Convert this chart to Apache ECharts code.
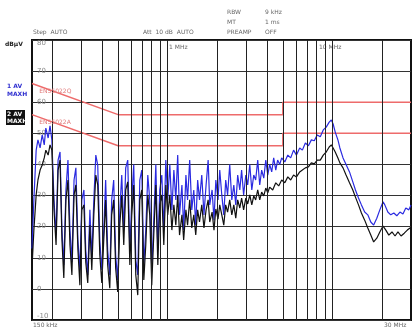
<!DOCTYPE html>
<html>
<head>
<meta charset="utf-8">
<script src="https://cdn.jsdelivr.net/npm/echarts@6/dist/echarts.min.js"></script>
<style>
  html, body { margin: 0; padding: 0; background: #fff; }
  #chart { width: 413px; height: 330px; }
</style>
</head>
<body>
<div id="chart"></div>
<script>
// Conducted emission scan, 150 kHz .. 30 MHz (frequencies in MHz, levels in dBµV)

// Trace 1 (blue), max hold
const trace1 = [
  [0.150, 13.0], [0.154, 28.6], [0.159, 44.6], [0.163, 47.9], [0.168, 45.3], [0.173, 49.5],
  [0.178, 46.3], [0.182, 51.7], [0.188, 48.5], [0.193, 52.4], [0.198, 47.9], [0.204, 28.6],
  [0.210, 17.3], [0.216, 41.4], [0.222, 44.0], [0.228, 18.9], [0.234, 7.7], [0.241, 31.8],
  [0.248, 41.4], [0.255, 18.9], [0.262, 8.6], [0.270, 35.0], [0.277, 38.9], [0.285, 15.7],
  [0.293, 6.1], [0.301, 28.6], [0.310, 31.8], [0.318, 12.5], [0.327, 4.5], [0.337, 25.4],
  [0.346, 9.9], [0.356, 28.6], [0.366, 43.0], [0.376, 39.8], [0.387, 15.7], [0.398, 6.1],
  [0.409, 18.9], [0.420, 35.0], [0.432, 12.5], [0.445, 4.5], [0.457, 28.6], [0.470, 35.0],
  [0.483, 10.9], [0.497, 2.9], [0.512, 25.4], [0.526, 36.6], [0.541, 18.9], [0.556, 38.9],
  [0.572, 41.4], [0.589, 12.5], [0.605, 28.6], [0.622, 40.0], [0.640, 9.3], [0.658, 4.5],
  [0.677, 35.0], [0.696, 38.2], [0.716, 7.7], [0.736, 18.9], [0.757, 36.6], [0.778, 28.6],
  [0.800, 6.1], [0.823, 22.1], [0.847, 40.0], [0.871, 12.5], [0.895, 31.8], [0.921, 36.6],
  [0.947, 18.9], [0.974, 41.4], [1.00, 28.6], [1.03, 40.0], [1.06, 25.4], [1.09, 38.2],
  [1.12, 28.6], [1.15, 43.0], [1.18, 23.8], [1.22, 33.4], [1.25, 18.9], [1.29, 36.6],
  [1.32, 28.6], [1.36, 41.4], [1.40, 25.4], [1.44, 31.8], [1.48, 20.5], [1.52, 35.0],
  [1.56, 28.6], [1.61, 36.6], [1.66, 23.8], [1.71, 33.4], [1.76, 41.4], [1.80, 27.0],
  [1.86, 31.8], [1.91, 22.1], [1.96, 35.0], [2.02, 28.6], [2.07, 38.2], [2.13, 30.2],
  [2.19, 23.8], [2.25, 35.0], [2.31, 30.2], [2.38, 40.0], [2.45, 28.6], [2.52, 33.4],
  [2.59, 27.0], [2.66, 36.6], [2.74, 31.8], [2.81, 38.2], [2.89, 30.2], [2.98, 36.6],
  [3.06, 33.4], [3.15, 40.0], [3.24, 31.8], [3.33, 36.6], [3.42, 35.0], [3.52, 41.4],
  [3.62, 33.4], [3.72, 38.2], [3.83, 35.6], [3.94, 41.4], [4.05, 36.6], [4.16, 40.0],
  [4.28, 37.6], [4.40, 42.1], [4.53, 38.2], [4.65, 41.4], [4.79, 40.0], [4.92, 42.1],
  [5.14, 40.8], [5.36, 43.0], [5.58, 42.1], [5.81, 44.6], [6.05, 43.0], [6.33, 45.3],
  [6.57, 44.6], [6.85, 46.9], [7.15, 46.0], [7.45, 47.9], [7.76, 47.6], [8.09, 49.5],
  [8.44, 48.9], [8.80, 51.1], [9.17, 52.0], [9.56, 53.6], [9.85, 54.3], [10.1, 53.0],
  [10.4, 50.4], [10.8, 47.9], [11.1, 45.3], [11.6, 42.1], [12.1, 40.0], [12.7, 37.6],
  [13.3, 34.4], [13.8, 31.8], [14.4, 29.2], [15.0, 27.0], [15.7, 24.7], [16.4, 23.8],
  [17.1, 21.5], [17.8, 20.5], [18.6, 22.7], [19.4, 25.4], [20.3, 28.0], [20.8, 27.0],
  [21.7, 24.7], [22.6, 23.8], [23.6, 24.4], [24.6, 23.5], [25.7, 24.7], [26.8, 24.1],
  [27.9, 26.0], [29.1, 25.4], [30.0, 27.0]
];

// Trace 2 (black), average max hold
const trace2 = [
  [0.150, 6.7], [0.154, 18.9], [0.159, 30.2], [0.163, 35.0], [0.168, 38.2], [0.173, 39.8],
  [0.178, 42.1], [0.182, 44.6], [0.188, 43.0], [0.193, 46.3], [0.198, 44.6], [0.204, 25.4],
  [0.210, 14.1], [0.216, 38.2], [0.222, 41.4], [0.228, 15.7], [0.234, 3.5], [0.241, 28.6],
  [0.248, 35.0], [0.255, 14.1], [0.262, 4.5], [0.270, 30.2], [0.277, 33.4], [0.285, 12.5],
  [0.293, 1.2], [0.301, 25.4], [0.310, 27.0], [0.318, 8.6], [0.327, 1.9], [0.337, 20.5],
  [0.346, 6.1], [0.356, 23.8], [0.366, 36.6], [0.376, 33.4], [0.387, 10.9], [0.398, 1.9],
  [0.409, 15.7], [0.420, 28.6], [0.432, 7.7], [0.445, 0.2], [0.457, 23.8], [0.470, 28.6],
  [0.483, 6.7], [0.497, -1.0], [0.512, 20.5], [0.526, 30.2], [0.541, 14.1], [0.556, 31.8],
  [0.572, 34.4], [0.589, 7.7], [0.605, 23.8], [0.622, 33.4], [0.640, 4.5], [0.658, -2.0],
  [0.677, 28.6], [0.696, 31.8], [0.716, 2.9], [0.736, 14.1], [0.757, 30.2], [0.778, 23.8],
  [0.800, 1.2], [0.823, 17.3], [0.847, 33.4], [0.871, 7.7], [0.895, 27.0], [0.921, 30.2],
  [0.947, 14.1], [0.974, 33.4], [1.00, 23.8], [1.03, 30.2], [1.06, 18.9], [1.09, 27.0],
  [1.12, 20.5], [1.15, 30.2], [1.18, 17.3], [1.22, 23.8], [1.25, 15.7], [1.29, 25.4],
  [1.32, 20.5], [1.36, 28.6], [1.40, 19.6], [1.44, 23.8], [1.48, 17.3], [1.52, 25.4],
  [1.56, 21.5], [1.61, 27.0], [1.66, 19.6], [1.71, 25.4], [1.76, 28.6], [1.80, 21.5],
  [1.86, 24.7], [1.91, 18.9], [1.96, 25.7], [2.02, 22.4], [2.07, 27.0], [2.13, 23.8],
  [2.19, 20.5], [2.25, 27.0], [2.31, 24.7], [2.38, 28.6], [2.45, 23.8], [2.52, 27.0],
  [2.59, 22.7], [2.66, 28.6], [2.74, 26.0], [2.81, 29.2], [2.89, 25.4], [2.98, 29.2],
  [3.06, 27.3], [3.15, 30.2], [3.24, 27.0], [3.33, 29.9], [3.42, 28.6], [3.52, 31.8],
  [3.62, 28.6], [3.72, 31.1], [3.83, 29.9], [3.94, 32.4], [4.05, 30.9], [4.16, 32.7],
  [4.34, 31.8], [4.53, 34.1], [4.72, 33.1], [4.92, 35.0], [5.14, 34.1], [5.36, 36.0],
  [5.58, 35.0], [5.81, 36.6], [6.05, 36.0], [6.33, 37.6], [6.57, 38.2], [6.85, 38.9],
  [7.15, 39.2], [7.45, 40.5], [7.76, 40.2], [8.09, 41.4], [8.44, 41.4], [8.80, 43.0],
  [9.17, 44.0], [9.56, 45.6], [9.85, 46.3], [10.1, 45.3], [10.4, 44.0], [10.8, 42.1],
  [11.1, 40.5], [11.6, 38.9], [12.1, 36.6], [12.7, 34.1], [13.3, 31.8], [13.8, 29.5],
  [14.4, 27.0], [15.0, 24.4], [15.7, 22.1], [16.4, 19.6], [17.1, 17.3], [17.8, 15.1],
  [18.6, 16.3], [19.4, 18.3], [20.3, 20.2], [21.1, 18.9], [22.0, 17.3], [23.0, 18.3],
  [24.0, 17.0], [25.0, 18.3], [26.1, 17.0], [27.3, 17.9], [28.5, 18.9], [29.6, 19.6],
  [30.0, 19.9]
];

// Limit lines (quasi-peak and average)
const limitFreq = [0.15, 0.5, 5, 5, 30];
const limitQP = [66, 56, 56, 60, 60];
const limitAV = [56, 46, 46, 50, 50];
const limitNames = ['EN55022Q', 'EN55022A'];
const limitLabelAt = [[0.165, 63.5], [0.165, 53.5]];

// Frequency grid: 2..9 per decade plus decades
const gridFreqs = [0.2, 0.3, 0.4, 0.5, 0.6, 0.7, 0.8, 0.9, 1, 2, 3, 4, 5, 6, 7, 8, 9, 10, 20];
const levelMin = -10, levelMax = 80, levelStep = 10;

const font = 'DejaVu Sans';
const txt = (x, y, s, extra) => Object.assign({
  type: 'text', left: x, top: y, silent: true,
  style: { text: s, fill: '#666', font: '6px ' + font }
}, extra || {});

const limitLabel = (name, at) => ({
  symbol: 'rect', symbolSize: 1, silent: true,
  itemStyle: { color: 'rgba(0,0,0,0)' },
  label: { show: true, formatter: name, position: 'right', distance: 0, color: '#e07878', fontSize: 6, fontFamily: font },
  data: [{ coord: at }]
});

const chart = echarts.init(document.getElementById('chart'), null, { renderer: 'canvas' });
chart.setOption({
  animation: false,
  backgroundColor: '#fff',
  grid: { left: 32, right: 2, top: 40, bottom: 10, show: true, borderColor: '#111', borderWidth: 2, backgroundColor: 'transparent' },
  xAxis: {
    type: 'log', logBase: 10, min: 0.15, max: 30,
    axisLine: { show: false }, axisTick: { show: false },
    axisLabel: { show: false }, splitLine: { show: false }, minorSplitLine: { show: false }
  },
  yAxis: {
    type: 'value', min: levelMin, max: levelMax, interval: levelStep,
    axisLine: { show: false }, axisTick: { show: false },
    splitLine: { show: true, lineStyle: { color: '#333', width: 1 } },
    axisLabel: {
      inside: true, margin: 5, color: '#8a8a8a', fontSize: 7, fontFamily: font,
      verticalAlignMaxLabel: 'top', verticalAlignMinLabel: 'bottom'
    }
  },
  series: [
    {
      type: 'line', data: [], silent: true,
      markLine: {
        silent: true, symbol: 'none', animation: false,
        label: { show: false },
        lineStyle: { color: '#222', width: 1, type: 'solid' },
        data: gridFreqs.map(f => ({ xAxis: f }))
      }
    },
    {
      name: limitNames[0], type: 'line', silent: true, symbol: 'none',
      data: limitFreq.map((f, i) => [f, limitQP[i]]),
      lineStyle: { color: '#ee6b6b', width: 1.5 },
      markPoint: limitLabel(limitNames[0], limitLabelAt[0])
    },
    {
      name: limitNames[1], type: 'line', silent: true, symbol: 'none',
      data: limitFreq.map((f, i) => [f, limitAV[i]]),
      lineStyle: { color: '#ee6b6b', width: 1.5 },
      markPoint: limitLabel(limitNames[1], limitLabelAt[1])
    },
    {
      name: '1 AV MAXH', type: 'line', silent: true, symbol: 'none',
      data: trace1, lineStyle: { color: '#2a2ae0', width: 1.2 }
    },
    {
      name: '2 AV MAXH', type: 'line', silent: true, symbol: 'none',
      data: trace2, lineStyle: { color: '#111', width: 1.2 }
    }
  ],
  graphic: [
    txt(33, 29, 'Step  AUTO'),
    txt(143, 29, 'Att  10 dB  AUTO'),
    txt(227, 9, 'RBW'), txt(265, 9, '9 kHz'),
    txt(227, 19, 'MT'), txt(265, 19, '1 ms'),
    txt(227, 29, 'PREAMP'), txt(265, 29, 'OFF'),
    txt(5, 41, 'dBµV', { style: { text: 'dBµV', fill: '#222', font: 'bold 6px ' + font } }),
    txt(7, 83, '1 AV', { style: { text: '1 AV', fill: '#3030d0', font: 'bold 6px ' + font } }),
    txt(7, 91, 'MAXH', { style: { text: 'MAXH', fill: '#3030d0', font: 'bold 6px ' + font } }),
    { type: 'rect', left: 6, top: 110, shape: { width: 19, height: 15 }, style: { fill: '#111' }, silent: true },
    txt(7, 111, '2 AV', { style: { text: '2 AV', fill: '#fff', font: 'bold 6px ' + font } }),
    txt(7, 118, 'MAXH', { style: { text: 'MAXH', fill: '#fff', font: 'bold 6px ' + font } }),
    txt(169, 44, '1 MHz'),
    txt(319, 44, '10 MHz'),
    txt(33, 322, '150 kHz'),
    txt(384, 322, '30 MHz')
  ]
});
</script>
</body>
</html>
